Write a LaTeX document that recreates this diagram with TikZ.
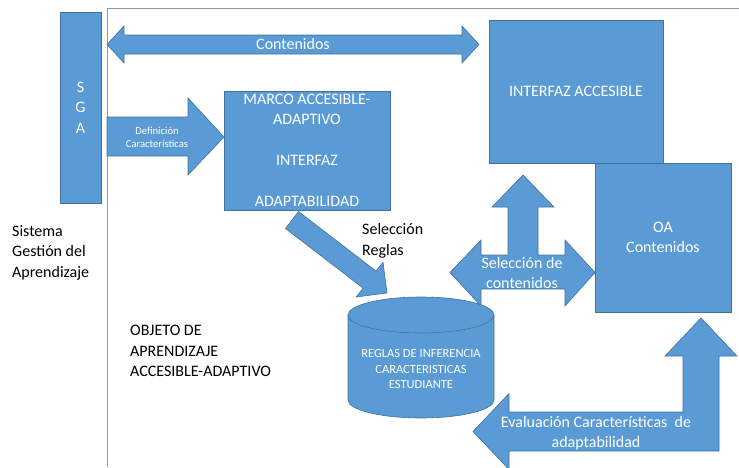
\documentclass[tikz,border=0pt]{standalone}
\usepackage{fontspec}
\setmainfont{Carlito}
\usepackage{tikz}
\usetikzlibrary{calc}

\definecolor{oblue}{HTML}{5B9BD5}
\definecolor{oedge}{HTML}{41719C}
\definecolor{oframe}{HTML}{7F9CC0}

\tikzset{
  box/.style = {draw = oedge, fill = oblue, line width = 0.6pt, text = white,
                align = center, inner sep = 0pt,
                font = \fontsize{16}{20.5}\selectfont},
  blockarrow/.style = {draw = oedge, fill = oblue, line width = 0.6pt, line join = miter},
  wlabel/.style = {text = white, align = center, inner sep = 0pt,
                   font = \fontsize{16}{20.5}\selectfont},
  blabel/.style = {text = black, align = left, inner sep = 0pt, anchor = west,
                   font = \fontsize{16}{20.5}\selectfont}
}

\begin{document}
\begin{tikzpicture}
  [
    x = 1pt, y = -1pt,  % pixel-like grid, y grows downwards
  ]
  \useasboundingbox (0,0) rectangle (739,467);

  % frame of the learning object
  \draw [oframe, line width = 1pt] (107,467) -- (107,8) -- (739,8);

  % boxes
  \node [box, minimum width = 41pt, minimum height = 191pt] (sga) at (80.5,107.5) {S\\G\\A};
  \node [box, minimum width = 166pt, minimum height = 119pt] (marco) at (307,150.5)
    {MARCO ACCESIBLE-\\ADAPTIVO\\[20.5pt]INTERFAZ\\[20.5pt]ADAPTABILIDAD};
  \node [box, minimum width = 174pt, minimum height = 143pt] (interfaz) at (576,91.5)
    {INTERFAZ ACCESIBLE};
  \node [box, minimum width = 136pt, minimum height = 149pt] (oa) at (663,237.5)
    {OA\\Contenidos};

  % block arrows
  \filldraw [blockarrow] (107,44.5) -- (124,26) -- (124,35) -- (462,35) -- (462,26)
    -- (479,44.5) -- (462,63) -- (462,54) -- (124,54) -- (124,63) -- cycle;
  \filldraw [blockarrow] (107,117) -- (188,117) -- (188,98) -- (224,137)
    -- (188,175) -- (188,156) -- (107,156) -- cycle;
  \filldraw [blockarrow] (285.5,228.5) -- (298.5,211.5) -- (376.1,271.1) -- (383,262.2)
    -- (387,293) -- (356.2,297) -- (363.1,288.1) -- cycle;
  \filldraw [blockarrow] (450,272.5) -- (481,240) -- (481,255) -- (508,255) -- (508,207)
    -- (492,207) -- (523,175) -- (554,207) -- (538,207) -- (538,255) -- (565,255)
    -- (565,240) -- (595,272.5) -- (565,306) -- (565,289) -- (481,289) -- (481,306) -- cycle;
  \filldraw [blockarrow] (701,318) -- (737,356) -- (719,356) -- (719,451) -- (509,451)
    -- (509,469.5) -- (473,431.5) -- (509,393.5) -- (509,412) -- (683,412) -- (683,356)
    -- (665,356) -- cycle;

  % rule base
  \filldraw [blockarrow] (348,315) -- (348,400)
    arc [start angle = 180, end angle = 360, x radius = 73pt, y radius = 18pt]
    -- (494,315)
    arc [start angle = 0, end angle = 180, x radius = 73pt, y radius = 18pt] -- cycle;
  \draw [oedge, line width = 0.6pt] (348,315)
    arc [start angle = 180, end angle = 360, x radius = 73pt, y radius = 18pt];
  \node [wlabel, font = \fontsize{12.5}{15.5}\selectfont] (reglas) at (421,369)
    {REGLAS DE INFERENCIA\\CARACTERISTICAS\\ESTUDIANTE};

  % arrow labels
  \node [wlabel] (contenidos) at (293,44) {Contenidos};
  \node [wlabel, font = \fontsize{10.6}{13}\selectfont] (definicion) at (157,137.5)
    {Definición\\Características};
  \node [wlabel] (seleccion) at (522,273) {Selección de\\contenidos};
  \node [wlabel] (evaluacion) at (596,433) {Evaluación Características\ \ de\\adaptabilidad};

  % plain texts
  \node [blabel] (selreglas) at (362,241) {Selección\\Reglas};
  \node [blabel] (sistema) at (12,252.5) {Sistema\\Gestión del\\Aprendizaje};
  \node [blabel] (objeto) at (130,351) {OBJETO DE\\APRENDIZAJE\\ACCESIBLE-ADAPTIVO};
\end{tikzpicture}
\end{document}
